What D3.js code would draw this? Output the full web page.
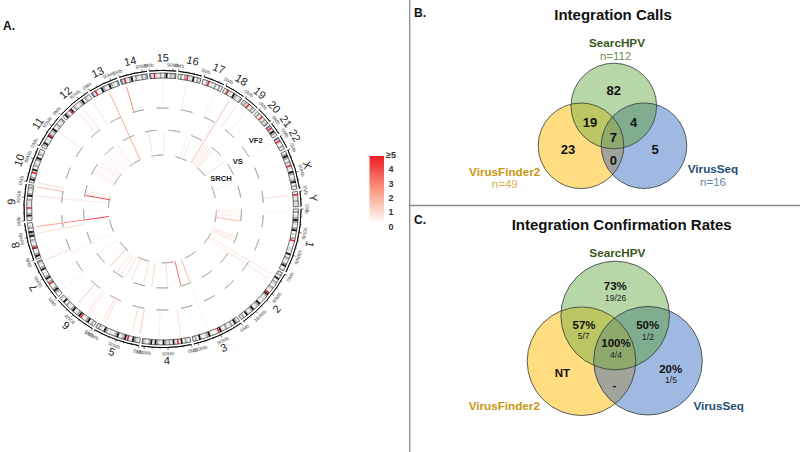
<!DOCTYPE html>
<html>
<head>
<meta charset="utf-8">
<script src="https://cdn.jsdelivr.net/npm/d3@7"></script>
<style>
  html, body { margin: 0; padding: 0; background: #fff; }
  svg { display: block; font-family: "Liberation Sans", Arial, sans-serif; }
</style>
</head>
<body>
<svg id="chart" width="800" height="452"></svg>
<script>
// genome
const chromNames = ["1","2","3","4","5","6","7","8","9","10","11","12","13","14","15","16","17","18","19","20","21","22","X","Y"];
const chromSizes = [249,243,198,191,181,171,159,146,141,136,135,134,115,107,103,90,81,78,59,63,48,51,155,59];
const centromeres = [125,93,91,50,48,61,60,45,49,40,54,36,18,17,19,37,24,17,26,28,13,15,60,12];
// stain per equal bin along each chromosome: w white, l light, g grey, k black, b stalk
const bandStrings = [
  "wgwlgkglwgkwlwgwwwwllwkwglwgkwl", "lgwkwglwglwwkgwlwwkglwkgwlkwgl", "wgkwgwlgwlkwlwwlkglwlkwgl",
  "wlgwkwwlkwglgkwlgkwkgwlg", "wlgkwwlkglwkglwlwgkwlgl", "wgwkgwlwkglwkgwlgwkwl",
  "wlgkgwwlgwkgwlwkgwlg", "wkgwwkgwlgwkgkwglw", "wlkgwlwlllgwkgwlgl",
  "wkgwllkwglwgkwglw", "wgkwlwkglgkwlgwlg", "wkgwlkwglwlgkwglw",
  "bllwwkglwkglwg", "bllwgkwglwglg", "blllwgwgkwglg",
  "wgwgwllkwgl", "wlgwlwgwgw", "wgwlwkglwg", "lglwlgl", "wgwlwglg",
  "bllkgw", "bllwgw", "wgkgwglwlwkgwlgkwgw", "wlllgll"
];

// integration sites per caller: [chromosome, Mb, count]
const vf2Sites = [
  ["14",16,2.6],["13",66,2],["12",130,.8],["12",80,.8],["12",55,.8],["11",87,.6],["10",5,.9],["9",137,1.6],
  ["9",100,.8],["8",127,2.2],["8",99,.9],["7",152,.9],["7",10,.5],["6",106,1.3],["6",51,.9],["6",39,.6],
  ["5",169,.9],["5",157,1],["5",38,.8],["5",5,1.3],["4",124,.5],["4",35,.9],["3",130,.3],["2",25,.7],["2",48,.7],
  ["Y",13,.8],["1",14,.3],["22",11,.4],["17",61,.4],["18",40,1.6],["19",36,.5],["18",77,.8],["16",39,.6],["15",53,.6]
];
const vsSites = [
  ["13",66,2],["9",100,.6],["8",127,2.6],["8",99,.9],["7",130,.5],["3",130,.3],["2",25,.7],["2",48,.7],["18",40,1.6]
];
const srchSites = [
  ["14",72,.6],["14",70,.5],["15",64,.5],["13",66,2],["17",42,.5],["17",15,.5],["18",40,1.6],
  ["18",60,.6],["18",78,.7],["19",10,.8],["19",29,.5],["19",38,.6],["21",3,.8],["X",48,.4],
  ["1",4,.3],["1",18,.4],["1",36,.4],["1",52,.4],["1",81,1.6],["1",194,.8],["1",212,.6],["1",224,.6],
  ["2",25,.6],["2",48,.6],["3",194,3.4],["3",130,1.8],
  ["12",112,.5],["12",85,.4],["12",47,.4],["12",20,.5],["11",130,.4],["11",115,.4],["11",95,.4],["11",80,.4],["11",62,.4],
  ["11",1,.5],["11",21,.5],["9",137,4.2],["10",19,.4],["10",6,.4],["9",100,.5],["9",31,.3],["8",127,4.2],
  ["7",50,.4],["7",130,.4],["6",111,1.6],["6",16,.8],["6",48,.7],["5",172,.8],["5",128,.8],["5",38,.5],["5",47,.5],["4",184,1],["4",77,.8]
];
const trackLabels = ["VF2","VS","SRCH"];
const legendTicks = ["0","1","2","3","4","≥5"];

// venn panels
const vennNames = ["SearcHPV","VirusFinder2","VirusSeq"];
const callTotals = ["n=112","n=49","n=16"];
const callCounts = ["82","19","4","7","23","5","0"];
const ratePercents = ["73%","57%","50%","100%","NT","20%","-"];
const rateFractions = ["19/26","5/7","1/2","4/4","","1/5",""];

const svg = d3.select("#chart");
const cx = 162.5, cy = 209;
const gapDeg = 1;
const degPerMb = (360 - gapDeg * chromNames.length) / d3.sum(chromSizes);

// one angle scale per chromosome, clockwise from 3 o'clock (0 rad = up, like d3.arc)
let cursor = 90;
const chroms = chromNames.map((name, i) => {
  const span = chromSizes[i] * degPerMb;
  const scale = d3.scaleLinear().domain([0, chromSizes[i]]).range([cursor, cursor + span]);
  cursor += span + gapDeg;
  return { name, i, size: chromSizes[i], centro: centromeres[i], bands: bandStrings[i], scale };
});
const chromByName = new Map(chroms.map((c) => [c.name, c]));
const rad = (d) => (d * Math.PI) / 180;
const polar = (deg, r) => [r * Math.sin(rad(deg)), -r * Math.cos(rad(deg))];
const arc = d3.arc();
const ringPath = (r0, r1, a0, a1) =>
  arc({ innerRadius: r0, outerRadius: r1, startAngle: rad(a0), endAngle: rad(a1) });

// labels on the lower right read upright, all others have their top outward
const labelRotation = (deg) => (deg > 110 && deg < 212 ? deg - 180 : deg);
const radialText = (sel, deg, r) =>
  sel.attr("transform", () => {
    const [x, y] = polar(deg, r);
    return `translate(${x},${y}) rotate(${labelRotation(deg)})`;
  });

const circos = svg.append("g").attr("transform", `translate(${cx},${cy})`);

// ideogram
const ideoInner = 131, ideoOuter = 136;
const stainColor = { w: "#f6f6f6", l: "#dedede", g: "#a6a6a6", k: "#1c1c1c", b: "#7b98c8" };
const chromG = circos.selectAll("g.chrom").data(chroms).enter().append("g").attr("class", "chrom");

chromG.each(function (c) {
  const g = d3.select(this);
  const bin = c.size / c.bands.length;
  g.selectAll("path.band")
    .data(Array.from(c.bands))
    .enter()
    .append("path")
    .attr("class", "band")
    .attr("fill", (d) => stainColor[d])
    .attr("d", (d, i) => ringPath(ideoInner, ideoOuter, c.scale(i * bin), c.scale((i + 1) * bin)));

  g.append("path")
    .attr("fill", "#ee1c25")
    .attr("d", ringPath(ideoInner, ideoOuter, c.scale(c.centro - 3), c.scale(c.centro + 3)));

  g.append("path")
    .attr("fill", "none")
    .attr("stroke", "#111")
    .attr("stroke-width", 0.6)
    .attr("d", ringPath(ideoInner, ideoOuter, c.scale(0), c.scale(c.size)));

  // genome axis
  const axisR = 138.6;
  g.append("path")
    .attr("fill", "none")
    .attr("stroke", "#000")
    .attr("stroke-width", 0.8)
    .attr("d", ringPath(axisR, axisR, c.scale(0), c.scale(c.size)));

  const ticks = d3.range(0, c.size, 30);
  g.selectAll("line.tick")
    .data(ticks)
    .enter()
    .append("line")
    .attr("class", "tick")
    .attr("stroke", "#000")
    .attr("stroke-width", 0.5)
    .each(function (mb) {
      const len = mb % 90 === 0 ? 2.6 : 1.3;
      const [x1, y1] = polar(c.scale(mb), axisR);
      const [x2, y2] = polar(c.scale(mb), axisR + len);
      d3.select(this).attr("x1", x1).attr("y1", y1).attr("x2", x2).attr("y2", y2);
    });

  g.selectAll("text.mb")
    .data(ticks.filter((mb) => mb % 90 === 0))
    .enter()
    .append("text")
    .attr("class", "mb")
    .attr("font-size", 5)
    .attr("fill", "#555")
    .attr("text-anchor", "middle")
    .attr("dominant-baseline", "central")
    .text((mb) => `${mb}Mb`)
    .each(function (mb) {
      radialText(d3.select(this), c.scale(mb), 144.5);
    });

  radialText(
    g.append("text")
      .attr("font-size", 11)
      .attr("fill", "#222")
      .attr("text-anchor", "middle")
      .attr("dominant-baseline", "central")
      .text(c.name),
    c.scale(c.size / 2),
    151.5
  );
});

// tracks, count colour
const countColor = d3.scaleLinear().domain([0, 2.5, 5]).range(["#ffffff", "#fb9a80", "#ee1c25"]);
const tracks = [
  { sites: vf2Sites, r0: 101, r1: 127, dashes: 26, phase: 270 + 90 },
  { sites: vsSites, r0: 79, r1: 100, dashes: 21, phase: 261.5 + 90 },
  { sites: srchSites, r0: 54, r1: 78, dashes: 14, phase: 264.5 + 90 }
];
const dashLen = 12;

tracks.forEach((t) => {
  const g = circos.append("g");
  const half = ((dashLen / 2) / t.r0) * (180 / Math.PI);
  g.selectAll("path")
    .data(d3.range(t.dashes))
    .enter()
    .append("path")
    .attr("fill", "none")
    .attr("stroke", "#a8a8a8")
    .attr("stroke-width", 0.8)
    .attr("d", (k) => {
      const mid = t.phase + (k * 360) / t.dashes;
      return ringPath(t.r0, t.r0, mid - half, mid + half);
    });

  g.selectAll("line")
    .data(t.sites.slice().sort((a, b) => a[2] - b[2]))
    .enter()
    .append("line")
    .attr("stroke", (d) => countColor(d[2]))
    .attr("stroke-width", 1)
    .each(function (d) {
      const deg = chromByName.get(d[0]).scale(d[1]);
      const [x1, y1] = polar(deg, t.r0);
      const [x2, y2] = polar(deg, t.r1);
      d3.select(this).attr("x1", x1).attr("y1", y1).attr("x2", x2).attr("y2", y2);
    });
});

// track names
const trackLabelAt = [[255.7, 140.7], [237.7, 161], [221, 178.5]];
svg.selectAll("text.track")
  .data(trackLabels)
  .enter()
  .append("text")
  .attr("class", "track")
  .attr("x", (d, i) => trackLabelAt[i][0])
  .attr("y", (d, i) => trackLabelAt[i][1])
  .attr("text-anchor", "middle")
  .attr("dominant-baseline", "central")
  .attr("font-size", 7.6)
  .attr("font-weight", "bold")
  .attr("fill", "#222")
  .text((d) => d);

// legend
const defs = svg.append("defs");
const gradient = defs.append("linearGradient").attr("id", "countRamp").attr("x1", 0).attr("y1", 1).attr("x2", 0).attr("y2", 0);
d3.range(0, 5.01, 0.5).forEach((v) => {
  gradient.append("stop").attr("offset", `${(v / 5) * 100}%`).attr("stop-color", countColor(v));
});
const legendY = d3.scalePoint().domain(legendTicks).range([226.7, 155]);
svg.append("rect")
  .attr("x", 369.5)
  .attr("y", 156)
  .attr("width", 14.5)
  .attr("height", 68)
  .attr("fill", "url(#countRamp)");
svg.selectAll("text.legend")
  .data(legendTicks)
  .enter()
  .append("text")
  .attr("class", "legend")
  .attr("x", 391)
  .attr("y", (d) => legendY(d))
  .attr("text-anchor", "middle")
  .attr("dominant-baseline", "central")
  .attr("font-size", 9)
  .attr("font-weight", "bold")
  .attr("fill", "#333")
  .text((d) => d);

// panel rules and letters
svg.append("line").attr("x1", 409.7).attr("y1", 0).attr("x2", 409.7).attr("y2", 452).attr("stroke", "#8a8a8a").attr("stroke-width", 1.3);
svg.append("line").attr("x1", 410).attr("y1", 205.5).attr("x2", 800).attr("y2", 205.5).attr("stroke", "#8a8a8a").attr("stroke-width", 1.3);
[["A.", 3, 26], ["B.", 414, 13], ["C.", 414, 220]].forEach(([t, x, y]) => {
  svg.append("text").attr("x", x).attr("y", y).attr("dominant-baseline", "central")
    .attr("font-size", 12).attr("font-weight", "bold").attr("fill", "#111").text(t);
});

// venn: region colours follow which circles overlap
const regionFill = {
  s: "#b7d7a8", f: "#ffdd80", q: "#a0b9e2",
  sf: "#bcc663", sq: "#80ad90", fq: "#a0a49b", sfq: "#8ea96b"
};
const nameColor = ["#38571a", "#c9970f", "#1f4e79"];
const subColor = ["#6f8f5a", "#d9b050", "#5b82aa"];

function venn(id, centers, r) {
  const g = svg.append("g");
  const [s, f, q] = centers;
  const keys = ["s", "f", "q"];
  keys.forEach((k, i) => {
    defs.append("clipPath").attr("id", `${id}-${k}`).append("circle")
      .attr("cx", centers[i][0]).attr("cy", centers[i][1]).attr("r", r);
  });
  const disc = (parent, c, fill) => parent.append("circle").attr("cx", c[0]).attr("cy", c[1]).attr("r", r).attr("fill", fill);
  disc(g, s, regionFill.s);
  disc(g, f, regionFill.f);
  disc(g, q, regionFill.q);
  disc(g.append("g").attr("clip-path", `url(#${id}-s)`), f, regionFill.sf);
  disc(g.append("g").attr("clip-path", `url(#${id}-s)`), q, regionFill.sq);
  disc(g.append("g").attr("clip-path", `url(#${id}-f)`), q, regionFill.fq);
  disc(g.append("g").attr("clip-path", `url(#${id}-s)`).append("g").attr("clip-path", `url(#${id}-f)`), q, regionFill.sfq);
  centers.forEach((c) => disc(g, c, "none").attr("stroke", "#2f3a33").attr("stroke-width", 0.8));
}

function label(text, x, y, size, bold, fill) {
  svg.append("text")
    .attr("x", x).attr("y", y)
    .attr("text-anchor", "middle")
    .attr("dominant-baseline", "central")
    .attr("font-size", size)
    .attr("font-weight", bold ? "bold" : "normal")
    .attr("fill", fill)
    .text(text);
}

// panel B
label("Integration Calls", 613, 14, 15, true, "#111");
venn("calls", [[613.8, 106], [581, 145.8], [644, 145.7]], 42.8);
const callNameAt = [[617, 42.3], [504.7, 171], [713, 168.3]];
const callTotalAt = [[615.7, 56], [504.7, 184.3], [713, 181.7]];
vennNames.forEach((n, i) => {
  label(n, callNameAt[i][0], callNameAt[i][1], 11.7, true, nameColor[i]);
  label(callTotals[i], callTotalAt[i][0], callTotalAt[i][1], 11.5, false, subColor[i]);
});
const callCountAt = [[613.7, 90], [590, 122.7], [633.7, 122.7], [613.3, 137], [568, 149.3], [655, 149.3], [613.3, 160]];
callCounts.forEach((n, i) => label(n, callCountAt[i][0], callCountAt[i][1], 13, true, "#111"));

// panel C
label("Integration Confirmation Rates", 621.7, 224, 15, true, "#111");
venn("rates", [[615.2, 315.5], [581.5, 361.2], [648, 360.7]], 54.3);
const rateNameAt = [[617.3, 252.7], [504.3, 405.7], [718.7, 405.7]];
vennNames.forEach((n, i) => label(n, rateNameAt[i][0], rateNameAt[i][1], 11.7, true, nameColor[i]));
const ratePercentAt = [[615.3, 286.3], [584, 324.7], [647.7, 324.7], [616, 343.3], [562.3, 373.3], [670.7, 368.7], [614.3, 385]];
const rateFractionAt = [[615.7, 297.7], [583.7, 336.3], [648, 336.7], [616, 355.3], null, [671, 380.3], null];
ratePercents.forEach((n, i) => label(n, ratePercentAt[i][0], ratePercentAt[i][1], 11.5, true, "#111"));
rateFractions.forEach((n, i) => {
  if (n) label(n, rateFractionAt[i][0], rateFractionAt[i][1], 8.5, false, "#222");
});
</script>
</body>
</html>
